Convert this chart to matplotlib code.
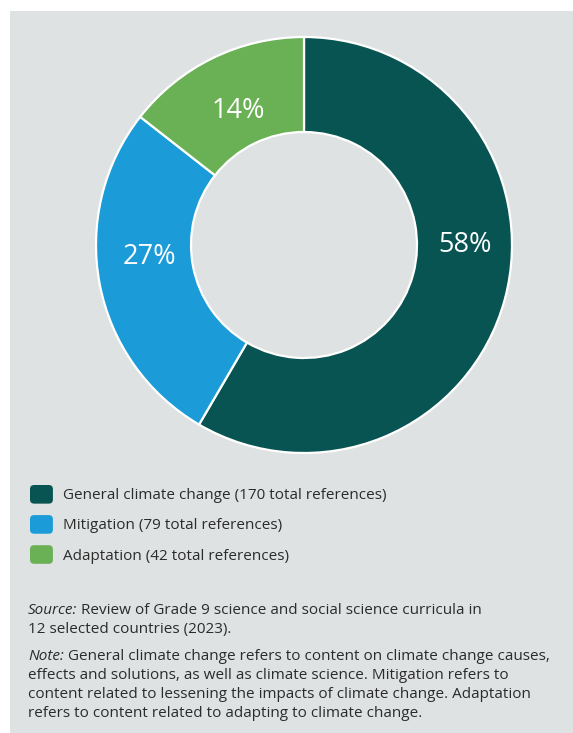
import matplotlib
matplotlib.use("Agg")
import matplotlib.pyplot as plt
import numpy as np
from matplotlib.patches import Rectangle, FancyBboxPatch
from matplotlib.legend_handler import HandlerPatch

categories = ["General climate change", "Mitigation", "Adaptation"]
references = [170, 79, 42]
pct_labels = ["58%", "27%", "14%"]
colors = ["#075453", "#1b9cd8", "#6ab155"]

plt.rcParams['font.family'] = ['Open Sans', 'DejaVu Sans']

W, H = 573, 733
fig = plt.figure(figsize=(W / 100, H / 100), dpi=100)
fig.patch.set_facecolor("white")
fig.patches.append(Rectangle((10 / W, 0), 1 - 10 / W, (H - 11) / H,
                             transform=fig.transFigure, facecolor="#dfe2e2",
                             edgecolor="none", zorder=-5))

# donut
cx, cy, R = 304, 245, 208
box = 215
ax = fig.add_axes([(cx - box) / W, (H - cy - box) / H, 2 * box / W, 2 * box / H])
ax.set_zorder(1)
wedges, _ = ax.pie(references, colors=colors, startangle=90, counterclock=False,
                   radius=R, wedgeprops=dict(width=R - 113, edgecolor="white", linewidth=1.6))
ax.set_xlim(-box, box)
ax.set_ylim(-box, box)
ax.set_aspect("equal")
ax.axis("off")

label_angles = [0, -175.5, None]
label_r = [161, 155, 149]
for w, lab, ang, r in zip(wedges, pct_labels, label_angles, label_r):
    if ang is None:
        ang = (w.theta1 + w.theta2) / 2
    a = np.deg2rad(ang)
    ax.text(r * np.cos(a), r * np.sin(a), lab, ha="center", va="center",
            color="white", fontsize=19.5)


class RoundHandler(HandlerPatch):
    def create_artists(self, legend, orig_handle, xdescent, ydescent, width, height, fontsize, trans):
        p = FancyBboxPatch((-xdescent, -ydescent), width, height,
                           boxstyle="round,pad=0,rounding_size=3",
                           facecolor=orig_handle.get_facecolor(), edgecolor="none",
                           transform=trans)
        return [p]


handles = [Rectangle((0, 0), 1, 1, facecolor=c) for c in colors]
labels = [f"{c} ({n} total references)" for c, n in zip(categories, references)]
fs = 11.0
leg = fig.legend(handles, labels, loc="upper left",
                 bbox_to_anchor=(30 / W, 1 - 485 / H), bbox_transform=fig.transFigure,
                 frameon=False, fontsize=fs, handlelength=1.5, handleheight=1.5,
                 handletextpad=0.68, labelspacing=0.75, borderpad=0, borderaxespad=0,
                 handler_map={Rectangle: RoundHandler()})
for t in leg.get_texts():
    t.set_color("#2b2b2b")

tc = "#2b2b2b"
nfs = 11.0
x0 = 28 / W


def mixed(y, italic, rest):
    t = fig.text(x0, 1 - y / H, italic, style="italic", fontsize=nfs, color=tc, va="baseline")
    fig.canvas.draw()
    bb = t.get_window_extent()
    fig.text(bb.x1 / (W) + 4 / W, 1 - y / H, rest, fontsize=nfs, color=tc, va="baseline")


mixed(614, "Source:", "Review of Grade 9 science and social science curricula in")
fig.text(x0, 1 - 633 / H, "12 selected countries (2023).", fontsize=nfs, color=tc, va="baseline")
mixed(660, "Note:", "General climate change refers to content on climate change causes,")
fig.text(x0, 1 - 679 / H, "effects and solutions, as well as climate science. Mitigation refers to",
         fontsize=nfs, color=tc, va="baseline")
fig.text(x0, 1 - 698 / H, "content related to lessening the impacts of climate change. Adaptation",
         fontsize=nfs, color=tc, va="baseline")
fig.text(x0, 1 - 717 / H, "refers to content related to adapting to climate change.",
         fontsize=nfs, color=tc, va="baseline")

fig.savefig("out.png", dpi=100)
